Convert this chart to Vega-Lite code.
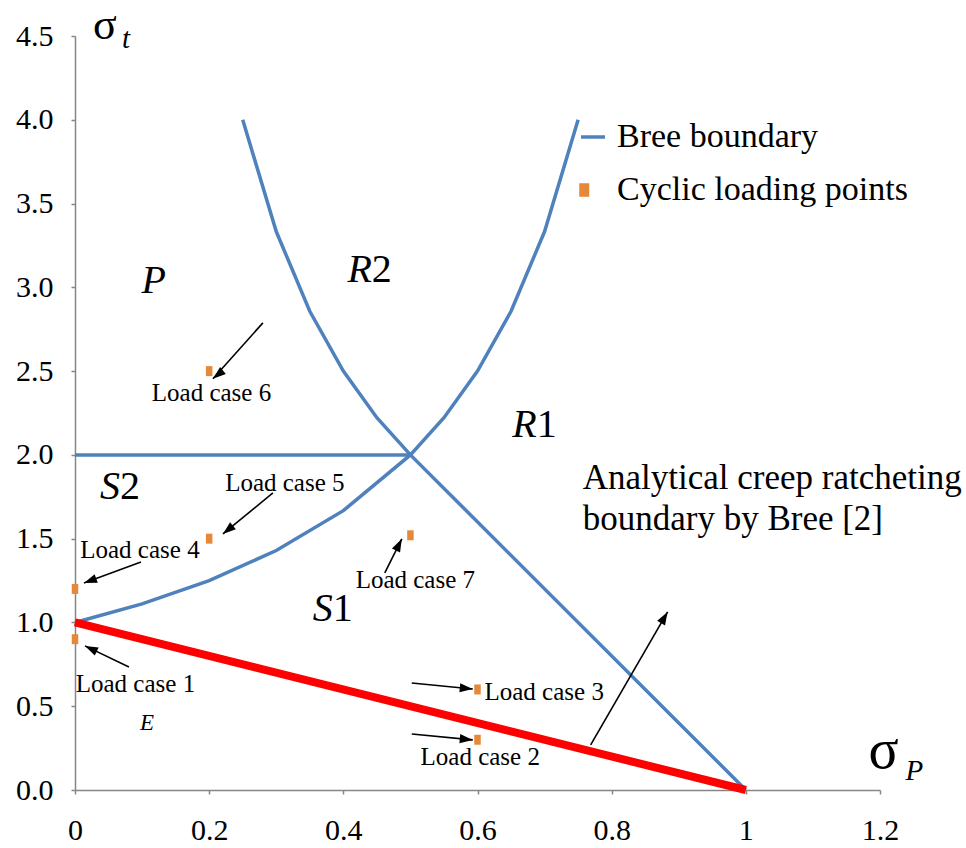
{
  "$schema": "https://vega.github.io/schema/vega-lite/v6.json",
  "width": 805,
  "height": 754,
  "autosize": {"type": "none"},
  "padding": {"left": 75, "top": 36, "right": 86, "bottom": 58},
  "background": "white",
  "config": {
    "view": {"stroke": null},
    "axis": {
      "domainColor": "#868686", "domainWidth": 1.5, "tickColor": "#868686", "tickWidth": 1.5, "tickSize": 4,
      "labelFont": "Liberation Serif", "labelFontSize": 30, "labelColor": "black", "grid": false, "title": null,
      "labelFlush": false, "labelOverlap": false
    },
    "text": {"font": "Liberation Serif", "color": "black"}
  },
  "datasets": {
    "blue": [
      {"seg": "a", "o": 0, "x": 0.25, "y": 4.0, "series": "Bree boundary"},
      {"seg": "a", "o": 1, "x": 0.3, "y": 3.333, "series": "Bree boundary"},
      {"seg": "a", "o": 2, "x": 0.35, "y": 2.857, "series": "Bree boundary"},
      {"seg": "a", "o": 3, "x": 0.4, "y": 2.5, "series": "Bree boundary"},
      {"seg": "a", "o": 4, "x": 0.45, "y": 2.222, "series": "Bree boundary"},
      {"seg": "a", "o": 5, "x": 0.5, "y": 2.0, "series": "Bree boundary"},
      {"seg": "a", "o": 6, "x": 1.0, "y": 0.0, "series": "Bree boundary"},
      {"seg": "b", "o": 0, "x": 0.0, "y": 1.0, "series": "Bree boundary"},
      {"seg": "b", "o": 1, "x": 0.1, "y": 1.111, "series": "Bree boundary"},
      {"seg": "b", "o": 2, "x": 0.2, "y": 1.25, "series": "Bree boundary"},
      {"seg": "b", "o": 3, "x": 0.3, "y": 1.429, "series": "Bree boundary"},
      {"seg": "b", "o": 4, "x": 0.4, "y": 1.667, "series": "Bree boundary"},
      {"seg": "b", "o": 5, "x": 0.5, "y": 2.0, "series": "Bree boundary"},
      {"seg": "b", "o": 6, "x": 0.55, "y": 2.222, "series": "Bree boundary"},
      {"seg": "b", "o": 7, "x": 0.6, "y": 2.5, "series": "Bree boundary"},
      {"seg": "b", "o": 8, "x": 0.65, "y": 2.857, "series": "Bree boundary"},
      {"seg": "b", "o": 9, "x": 0.7, "y": 3.333, "series": "Bree boundary"},
      {"seg": "b", "o": 10, "x": 0.75, "y": 4.0, "series": "Bree boundary"},
      {"seg": "c", "o": 0, "x": 0.0, "y": 2.0, "series": "Bree boundary"},
      {"seg": "c", "o": 1, "x": 0.5, "y": 2.0, "series": "Bree boundary"}
    ],
    "red": [
      {"o": 0, "x": 0.0, "y": 1.0},
      {"o": 1, "x": 1.0, "y": 0.0}
    ],
    "points": [
      {"case": 1, "x": 0.0, "y": 0.9, "series": "Cyclic loading points"},
      {"case": 2, "x": 0.6, "y": 0.3, "series": "Cyclic loading points"},
      {"case": 3, "x": 0.6, "y": 0.6, "series": "Cyclic loading points"},
      {"case": 4, "x": 0.0, "y": 1.2, "series": "Cyclic loading points"},
      {"case": 5, "x": 0.2, "y": 1.5, "series": "Cyclic loading points"},
      {"case": 6, "x": 0.2, "y": 2.5, "series": "Cyclic loading points"},
      {"case": 7, "x": 0.5, "y": 1.52, "series": "Cyclic loading points"}
    ],
    "arrows": [
      {"x": 0.2801, "y": 2.788, "x2": 0.2056, "y2": 2.454, "angle": 230.6},
      {"x": 0.2950, "y": 1.773, "x2": 0.2205, "y2": 1.528, "angle": 230.6},
      {"x": 0.0983, "y": 1.361, "x2": 0.0134, "y2": 1.236, "angle": 249.8},
      {"x": 0.0804, "y": 0.734, "x2": 0.0149, "y2": 0.860, "angle": 295.5},
      {"x": 0.4618, "y": 1.296, "x2": 0.4872, "y2": 1.499, "angle": 26.6},
      {"x": 0.5020, "y": 0.639, "x2": 0.5929, "y2": 0.603, "angle": 95.6},
      {"x": 0.5020, "y": 0.334, "x2": 0.5929, "y2": 0.299, "angle": 95.6},
      {"x": 0.7687, "y": 0.269, "x2": 0.8834, "y2": 1.063, "angle": 30.1}
    ],
    "caselabels": [
      {"text": "Load case 1", "x": 0.0901, "y": 0.585},
      {"text": "Load case 2", "x": 0.6041, "y": 0.149},
      {"text": "Load case 3", "x": 0.6994, "y": 0.537},
      {"text": "Load case 4", "x": 0.0968, "y": 1.385},
      {"text": "Load case 5", "x": 0.3128, "y": 1.785},
      {"text": "Load case 6", "x": 0.2034, "y": 2.322},
      {"text": "Load case 7", "x": 0.5073, "y": 1.206}
    ],
    "regions": [
      {"letter": "P", "num": "", "x": 0.1356, "y": 2.967},
      {"letter": "R", "num": "2", "x": 0.4425, "y": 3.033},
      {"letter": "R", "num": "1", "x": 0.6883, "y": 2.107},
      {"letter": "S", "num": "1", "x": 0.3844, "y": 1.009},
      {"letter": "S", "num": "2", "x": 0.0670, "y": 1.737}
    ],
    "elastic": [
      {"text": "E", "x": 0.1073, "y": 0.358}
    ],
    "notes": [
      {"text": "Analytical creep ratcheting", "x": 0.7568, "y": 1.797},
      {"text": "boundary by Bree [2]", "x": 0.7568, "y": 1.552}
    ],
    "sigmaT": [
      {"text": "σ", "x": 0.0268, "y": 4.484}
    ],
    "sigmaP": [
      {"text": "σ", "x": 1.1829, "y": 0.131}
    ],
    "subs": [
      {"text": "t", "x": 0.0700, "y": 4.430},
      {"text": "P", "x": 1.2380, "y": 0.0597}
    ]
  },
  "encoding": {
    "x": {"field": "x", "type": "quantitative",
      "scale": {"domain": [0, 1.2], "nice": false, "zero": false},
      "axis": {"values": [0, 0.2, 0.4, 0.6, 0.8, 1, 1.2], "labelExpr": "'' + datum.value", "labelPadding": 21}},
    "y": {"field": "y", "type": "quantitative",
      "scale": {"domain": [0, 4.5], "nice": false, "zero": false},
      "axis": {"values": [0, 0.5, 1, 1.5, 2, 2.5, 3, 3.5, 4, 4.5], "format": ".1f", "labelPadding": 18}}
  },
  "layer": [
    {
      "data": {"name": "blue"},
      "mark": {"type": "line", "strokeWidth": 3.5},
      "encoding": {
        "detail": {"field": "seg"},
        "order": {"field": "o", "type": "quantitative"},
        "color": {"field": "series", "type": "nominal",
          "scale": {"domain": ["Bree boundary", "Cyclic loading points"], "range": ["#4F81BD", "#E5883A"]},
          "legend": {
            "orient": "none", "legendX": 501, "legendY": 84, "title": null, "padding": 0,
            "labelFont": "Liberation Serif", "labelFontSize": 34, "labelColor": "black", "labelLimit": 500,
            "symbolSize": 576, "labelOffset": 7, "rowPadding": 19,
            "encode": {"symbols": {"update": {
              "shape": {"signal": "datum.label === 'Bree boundary' ? 'stroke' : 'M-2.4,-1L-1.1,-1L-1.1,1L-2.4,1Z'"},
              "size": {"signal": "datum.label === 'Bree boundary' ? 576 : 100"},
              "fill": {"signal": "datum.label === 'Bree boundary' ? 'transparent' : '#E5883A'"},
              "stroke": {"signal": "datum.label === 'Bree boundary' ? '#4F81BD' : 'transparent'"},
              "strokeWidth": {"value": 3.5},
              "opacity": {"value": 1},
              "fillOpacity": {"value": 1},
              "strokeOpacity": {"value": 1}
            }}}
          }}
      }
    },
    {
      "data": {"name": "red"},
      "mark": {"type": "line", "strokeWidth": 8, "color": "#FF0000"},
      "encoding": {"order": {"field": "o", "type": "quantitative"}}
    },
    {
      "data": {"name": "points"},
      "mark": {"type": "point", "filled": true, "opacity": 1, "size": 100, "shape": "M-0.65,-1L0.65,-1L0.65,1L-0.65,1Z"},
      "encoding": {"color": {"field": "series", "type": "nominal"}}
    },
    {
      "data": {"name": "arrows"},
      "mark": {"type": "rule", "color": "black", "strokeWidth": 1.6},
      "encoding": {"x2": {"field": "x2"}, "y2": {"field": "y2"}}
    },
    {
      "data": {"name": "arrows"},
      "mark": {"type": "point", "filled": true, "opacity": 1, "color": "black", "size": 676, "shape": "M0,0L-0.35,1L0.35,1Z"},
      "encoding": {
        "x": {"field": "x2", "type": "quantitative"},
        "y": {"field": "y2", "type": "quantitative"},
        "angle": {"field": "angle", "type": "quantitative", "scale": null}
      }
    },
    {
      "data": {"name": "caselabels"},
      "mark": {"type": "text", "fontSize": 25, "align": "center", "baseline": "alphabetic"},
      "encoding": {"text": {"field": "text"}}
    },
    {
      "data": {"name": "regions"},
      "mark": {"type": "text", "fontSize": 40, "fontStyle": "italic", "align": "right", "baseline": "alphabetic"},
      "encoding": {"text": {"field": "letter"}}
    },
    {
      "data": {"name": "regions"},
      "mark": {"type": "text", "fontSize": 40, "align": "left", "baseline": "alphabetic"},
      "encoding": {"text": {"field": "num"}}
    },
    {
      "data": {"name": "elastic"},
      "mark": {"type": "text", "fontSize": 23, "fontStyle": "italic", "align": "center", "baseline": "alphabetic"},
      "encoding": {"text": {"field": "text"}}
    },
    {
      "data": {"name": "notes"},
      "mark": {"type": "text", "fontSize": 35, "align": "left", "baseline": "alphabetic"},
      "encoding": {"text": {"field": "text"}}
    },
    {
      "data": {"name": "sigmaT"},
      "mark": {"type": "text", "fontSize": 44, "align": "left", "baseline": "alphabetic"},
      "encoding": {"text": {"field": "text"}}
    },
    {
      "data": {"name": "sigmaP"},
      "mark": {"type": "text", "fontSize": 56, "align": "left", "baseline": "alphabetic"},
      "encoding": {"text": {"field": "text"}}
    },
    {
      "data": {"name": "subs"},
      "mark": {"type": "text", "fontSize": 29, "fontStyle": "italic", "align": "left", "baseline": "alphabetic"},
      "encoding": {"text": {"field": "text"}}
    }
  ]
}
